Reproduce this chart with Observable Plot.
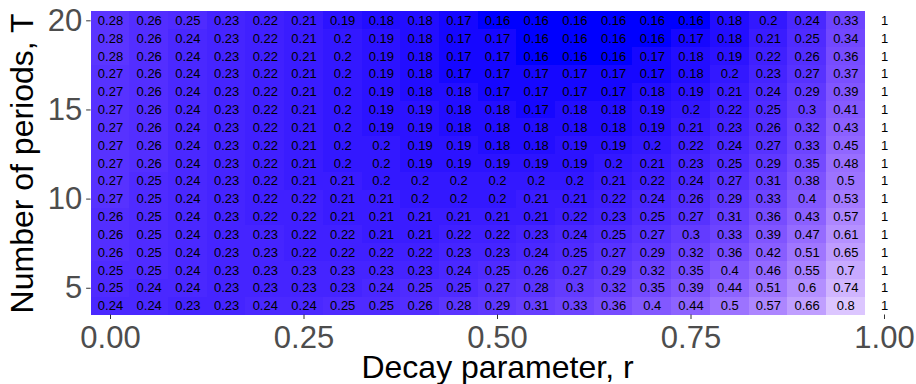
<!DOCTYPE html>
<html>
<head>
<meta charset="utf-8">
<script src="https://cdn.jsdelivr.net/npm/d3@7"></script>
<script src="https://cdn.jsdelivr.net/npm/@observablehq/plot@0.6"></script>
<style>
  html, body { margin: 0; padding: 0; background: #ffffff; }
</style>
</head>
<body>
<div id="chart"></div>
<script>
// Decay parameter r (columns) and number of periods T (rows)
const rValues = [0, 0.05, 0.1, 0.15, 0.2, 0.25, 0.3, 0.35, 0.4, 0.45, 0.5, 0.55, 0.6, 0.65, 0.7, 0.75, 0.8, 0.85, 0.9, 0.95, 1];
const periods = [20, 19, 18, 17, 16, 15, 14, 13, 12, 11, 10, 9, 8, 7, 6, 5, 4];

const T20 = [0.28,0.26,0.25,0.23,0.22,0.21,0.19,0.18,0.18,0.17,0.16,0.16,0.16,0.16,0.16,0.16,0.18,0.2,0.24,0.33,1];
const T19 = [0.28,0.26,0.24,0.23,0.22,0.21,0.2,0.19,0.18,0.17,0.17,0.16,0.16,0.16,0.16,0.17,0.18,0.21,0.25,0.34,1];
const T18 = [0.28,0.26,0.24,0.23,0.22,0.21,0.2,0.19,0.18,0.17,0.17,0.16,0.16,0.16,0.17,0.18,0.19,0.22,0.26,0.36,1];
const T17 = [0.27,0.26,0.24,0.23,0.22,0.21,0.2,0.19,0.18,0.17,0.17,0.17,0.17,0.17,0.17,0.18,0.2,0.23,0.27,0.37,1];
const T16 = [0.27,0.26,0.24,0.23,0.22,0.21,0.2,0.19,0.18,0.18,0.17,0.17,0.17,0.17,0.18,0.19,0.21,0.24,0.29,0.39,1];
const T15 = [0.27,0.26,0.24,0.23,0.22,0.21,0.2,0.19,0.19,0.18,0.18,0.17,0.18,0.18,0.19,0.2,0.22,0.25,0.3,0.41,1];
const T14 = [0.27,0.26,0.24,0.23,0.22,0.21,0.2,0.19,0.19,0.18,0.18,0.18,0.18,0.18,0.19,0.21,0.23,0.26,0.32,0.43,1];
const T13 = [0.27,0.26,0.24,0.23,0.22,0.21,0.2,0.2,0.19,0.19,0.18,0.18,0.19,0.19,0.2,0.22,0.24,0.27,0.33,0.45,1];
const T12 = [0.27,0.26,0.24,0.23,0.22,0.21,0.2,0.2,0.19,0.19,0.19,0.19,0.19,0.2,0.21,0.23,0.25,0.29,0.35,0.48,1];
const T11 = [0.27,0.25,0.24,0.23,0.22,0.21,0.21,0.2,0.2,0.2,0.2,0.2,0.2,0.21,0.22,0.24,0.27,0.31,0.38,0.5,1];
const T10 = [0.27,0.25,0.24,0.23,0.22,0.22,0.21,0.21,0.2,0.2,0.2,0.21,0.21,0.22,0.24,0.26,0.29,0.33,0.4,0.53,1];
const T9  = [0.26,0.25,0.24,0.23,0.22,0.22,0.21,0.21,0.21,0.21,0.21,0.21,0.22,0.23,0.25,0.27,0.31,0.36,0.43,0.57,1];
const T8  = [0.26,0.25,0.24,0.23,0.23,0.22,0.22,0.21,0.21,0.22,0.22,0.23,0.24,0.25,0.27,0.3,0.33,0.39,0.47,0.61,1];
const T7  = [0.26,0.25,0.24,0.23,0.23,0.22,0.22,0.22,0.22,0.23,0.23,0.24,0.25,0.27,0.29,0.32,0.36,0.42,0.51,0.65,1];
const T6  = [0.25,0.25,0.24,0.23,0.23,0.23,0.23,0.23,0.23,0.24,0.25,0.26,0.27,0.29,0.32,0.35,0.4,0.46,0.55,0.7,1];
const T5  = [0.25,0.24,0.24,0.23,0.23,0.23,0.23,0.24,0.25,0.25,0.27,0.28,0.3,0.32,0.35,0.39,0.44,0.51,0.6,0.74,1];
const T4  = [0.24,0.24,0.23,0.23,0.24,0.24,0.25,0.25,0.26,0.28,0.29,0.31,0.33,0.36,0.4,0.44,0.5,0.57,0.66,0.8,1];

const xTicks = [0, 0.25, 0.5, 0.75, 1];
const yTicks = [5, 10, 15, 20];
const xTitle = "Decay parameter, r";
const yTitle = "Number of periods, T";

const rows = [T20, T19, T18, T17, T16, T15, T14, T13, T12, T11, T10, T9, T8, T7, T6, T5, T4];
const table = [];
periods.forEach((T, i) => {
  rows[i].forEach((v, j) => table.push({T, r: rValues[j], v}));
});

const halfW = 0.025;

const chart = Plot.plot({
  width: 916,
  height: 384,
  marginLeft: 90.65,
  marginRight: 12.65,
  marginTop: 11.4,
  marginBottom: 69.5,
  style: {fontFamily: "'Liberation Sans', Arial, sans-serif", background: "#ffffff"},
  x: {domain: [-0.025, 1.025]},
  y: {domain: [3.5, 20.5]},
  color: {type: "linear", domain: [0.16, 1], range: ["blue", "white"], interpolate: "lab"},
  marks: [
    Plot.rect(table, {
      x1: d => d.r - halfW, x2: d => d.r + halfW,
      y1: d => d.T - 0.5, y2: d => d.T + 0.5,
      fill: "v", shapeRendering: "crispEdges"
    }),
    Plot.text(table, {
      x: "r", y: "T", text: d => String(d.v),
      fill: "black", fontSize: 13
    }),
    Plot.axisX({
      ticks: xTicks, tickFormat: d3.format(".2f"),
      tickSize: 4.5, tickPadding: 6.7, fontSize: 31,
      stroke: "#333333", fill: "#4d4d4d", label: null
    }),
    Plot.axisY({
      ticks: yTicks, tickFormat: d => String(d),
      tickSize: 4.5, tickPadding: 4.5, fontSize: 31,
      stroke: "#333333", fill: "#4d4d4d", label: null
    }),
    Plot.text([xTitle], {
      frameAnchor: "bottom", text: d => d, lineAnchor: "middle", textAnchor: "middle",
      dy: 53, fontSize: 32, fill: "black"
    }),
    Plot.text([yTitle], {
      frameAnchor: "left", text: d => d, lineAnchor: "middle", textAnchor: "middle", rotate: -90,
      dx: -68, fontSize: 32, fill: "black"
    })
  ]
});

document.getElementById("chart").appendChild(chart);
</script>
</body>
</html>
